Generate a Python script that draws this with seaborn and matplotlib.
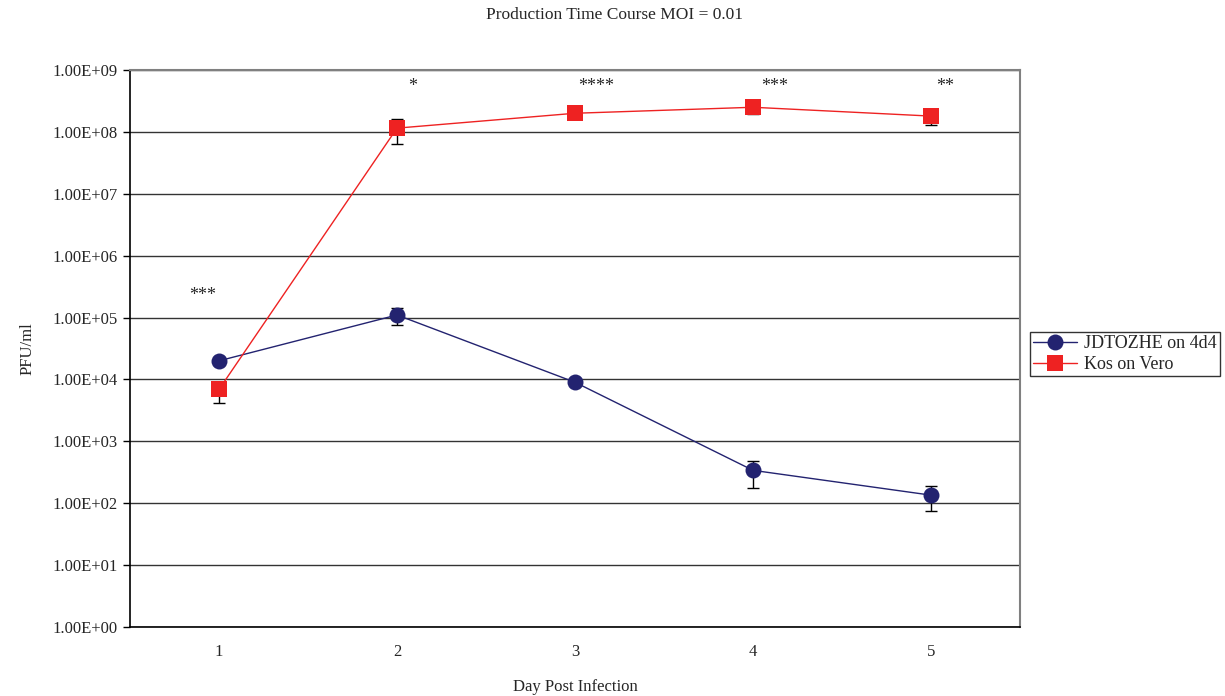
import matplotlib
matplotlib.use("Agg")
import matplotlib.pyplot as plt
import seaborn as sns
import numpy as np
import pandas as pd
from matplotlib.ticker import FixedLocator, FuncFormatter, NullFormatter

# ---- data ----
days = [1, 2, 3, 4, 5]
series_names = ["JDTOZHE on 4d4", "Kos on Vero"]
jd_vals = [2.0e4, 1.1e5, 9.0e3, 3.4e2, 1.35e2]
jd_upper = [2.0e4, 1.42e5, 9.0e3, 4.9e2, 1.9e2]
jd_lower = [2.0e4, 7.6e4, 9.0e3, 1.78e2, 7.6e1]
kos_vals = [6.9e3, 1.15e8, 2.0e8, 2.5e8, 1.8e8]
kos_upper = [9.1e3, 1.6e8, 2.0e8, 2.9e8, 2.3e8]
kos_lower = [4.2e3, 6.3e7, 2.0e8, 1.95e8, 1.29e8]
sig_labels = ["***", "*", "****", "***", "**"]
sig_x = [0.91, 2.09, 3.12, 4.12, 5.08]
sig_y = [2.3e5, 5.5e8, 5.5e8, 5.5e8, 5.5e8]
ytick_vals = [1e0, 1e1, 1e2, 1e3, 1e4, 1e5, 1e6, 1e7, 1e8, 1e9]

sns.set_style("white")
plt.rcParams['font.family'] = ['Liberation Serif', 'DejaVu Serif']

df = pd.DataFrame({
    "day": days * 2,
    "pfu": jd_vals + kos_vals,
    "series": [series_names[0]] * 5 + [series_names[1]] * 5,
})

navy = "#232370"
red = "#EE2222"

fig = plt.figure(figsize=(12.25, 6.96), dpi=100)
ax = fig.add_axes([130/1225, 69/696, 890/1225, 557/696])

sns.lineplot(data=df, x="day", y="pfu", hue="series", style="series",
             palette={series_names[0]: navy, series_names[1]: red},
             markers={series_names[0]: "o", series_names[1]: "s"},
             dashes=False, markersize=11.5, linewidth=1.0,
             markeredgewidth=0, ax=ax, legend=True)

# error bars
for vals, up, lo in [(jd_vals, jd_upper, jd_lower), (kos_vals, kos_upper, kos_lower)]:
    v = np.array(vals); u = np.array(up); l = np.array(lo)
    ax.errorbar(days, v, yerr=[v - l, u - v], fmt="none", ecolor="black",
                elinewidth=1.0, capsize=4, capthick=1.0, zorder=1)

ax.set_yscale("log")
ax.set_ylim(1e0, 1e9)
ax.set_xlim(0.5, 5.5)

ax.yaxis.set_major_locator(FixedLocator(ytick_vals))
ax.yaxis.set_major_formatter(FuncFormatter(lambda v, p: "{:.2E}".format(v)))
ax.yaxis.set_minor_locator(FixedLocator([]))
ax.set_xticks(days)
ax.set_xticklabels([str(d) for d in days])
ax.set_xticks([0.5, 1.5, 2.5, 3.5, 4.5, 5.5], minor=True)
ax.xaxis.set_minor_formatter(NullFormatter())
ax.tick_params(axis="x", which="major", length=0, pad=12, labelsize=12)
ax.tick_params(axis="x", which="minor", length=5, width=1, color="black", direction="out")
ax.tick_params(axis="y", which="major", length=5, width=1, color="black",
               direction="out", labelsize=12, pad=4, left=True)

ax.grid(True, axis="y", color="#333333", linewidth=1.0)
ax.grid(False, axis="x")
ax.set_axisbelow(True)

for side in ["left", "bottom"]:
    ax.spines[side].set_color("black")
    ax.spines[side].set_linewidth(1.2)
for side in ["top", "right"]:
    ax.spines[side].set_color("#808080")
    ax.spines[side].set_linewidth(1.5)

for lab, x, y in zip(sig_labels, sig_x, sig_y):
    ax.text(x, y, lab, ha="center", va="center", fontsize=13)

ax.set_xlabel("Day Post Infection", fontsize=12, labelpad=14)
ax.set_ylabel("PFU/ml", fontsize=12, labelpad=12)
fig.suptitle("Production Time Course MOI = 0.01", x=615/1225, y=1 - 15/696,
             va="center", fontsize=12.5)

leg = ax.legend(loc="center left", bbox_to_anchor=(1.011, 0.49), frameon=True,
                fancybox=False, edgecolor="black", fontsize=13, borderpad=0.2,
                handlelength=2.4, handletextpad=0.4, labelspacing=0.2,
                borderaxespad=0)
leg.get_frame().set_linewidth(1.0)
leg.set_title(None)

fig.savefig("out.png", dpi=100)
